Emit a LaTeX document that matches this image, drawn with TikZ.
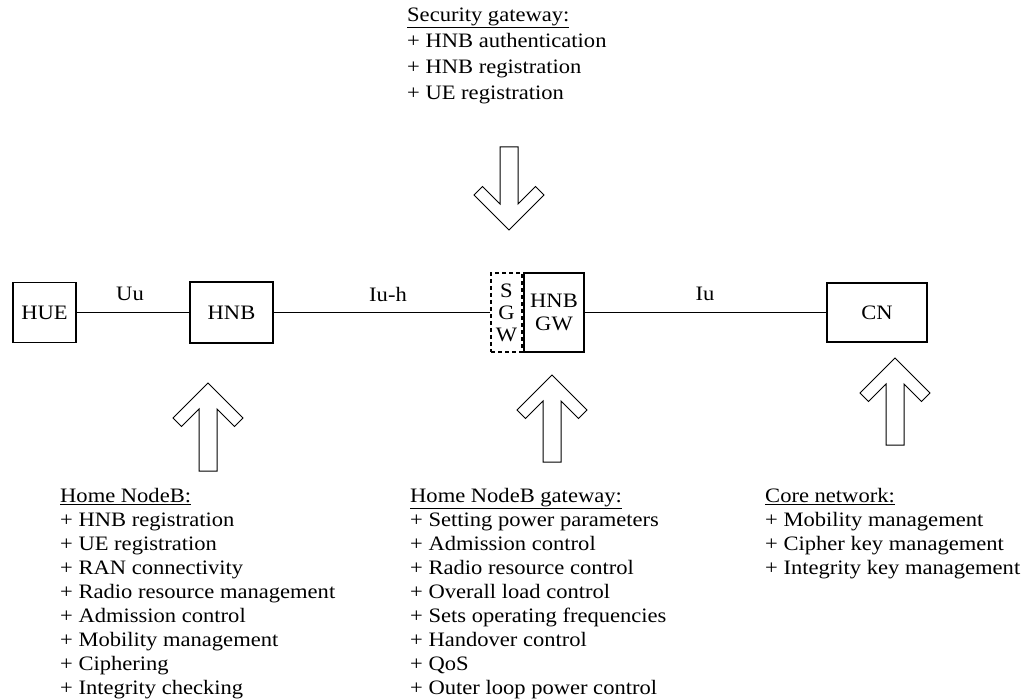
\documentclass[tikz,border=0pt]{standalone}
\usepackage{fontspec}
\setmainfont{Liberation Serif}[FakeStretch=1.1]
\newcommand\fs{\fontsize{20.5}{24}\selectfont}
\newcommand\arrowup[3]{\draw[hollow] (#1,#2) -- ({#1+35},{#2+35}) -- ({#1+26.5},{#2+43.5}) -- ({#1+9},{#2+26}) -- ({#1+9},#3) -- ({#1-9},#3) -- ({#1-9},{#2+26}) -- ({#1-26.5},{#2+43.5}) -- ({#1-35},{#2+35}) -- cycle;}
\newcommand\arrowdown[3]{\draw[hollow] (#1,#2) -- ({#1+35},{#2-35}) -- ({#1+26.5},{#2-43.5}) -- ({#1+9},{#2-26}) -- ({#1+9},#3) -- ({#1-9},#3) -- ({#1-9},{#2-26}) -- ({#1-26.5},{#2-43.5}) -- ({#1-35},{#2-35}) -- cycle;}
\begin{document}
\begin{tikzpicture}[x=1pt,y=-1pt,
  box/.style={draw,line width=1.5pt,inner sep=0pt,font=\fs},
  conn/.style={line width=1.5pt},
  hollow/.style={draw,line width=1pt,line join=miter},
  lbl/.style={font=\fs,inner sep=0pt},
  info/.style={font=\fs,align=left,anchor=north west,inner sep=0pt}]
\useasboundingbox[fill=white] (0,0) rectangle (1025,700);

% main chain
\node[box,minimum width=63pt,minimum height=60pt] (hue) at (44.5,312.5) {HUE};
\node[box,minimum width=83pt,minimum height=61pt] (hnb) at (231.5,312.5) {HNB};
\node[box,dashed,dash pattern=on 4pt off 3pt,minimum width=31pt,minimum height=79pt,align=center,font=\fontsize{20.5}{22}\selectfont] (sgw) at (506.5,312.5) {S\\G\\W};
\node[box,minimum width=60pt,minimum height=79pt,align=center,font=\fontsize{20.5}{23}\selectfont] (gw) at (554,312.5) {HNB\\GW};
\node[box,minimum width=100pt,minimum height=59pt] (cn) at (877,312.5) {CN};

\draw[conn] (hue.east) -- (hnb.west);
\draw[conn] (hnb.east) -- (sgw.west);
\draw[conn] (gw.east) -- (cn.west);

\node[lbl] (uu) at (130,294) {Uu};
\node[lbl] (iuh) at (388,294) {Iu-h};
\node[lbl] (iu) at (705,294) {Iu};

% hollow arrows
\arrowdown{509}{230}{147}
\arrowup{208}{383}{471}
\arrowup{552}{375}{462}
\arrowup{895}{358}{445}

% info blocks
\node[info,font=\fontsize{20.5}{26}\selectfont] (secinfo) at (407,8) {\underline{Security gateway:}\\+ HNB authentication\\+ HNB registration\\+ UE registration};
\node[info] (hnbinfo) at (60,488) {\underline{Home NodeB:}\\+ HNB registration\\+ UE registration\\+ RAN connectivity\\+ Radio resource management\\+ Admission control\\+ Mobility management\\+ Ciphering\\+ Integrity checking};
\node[info] (gwinfo) at (410,488) {\underline{Home NodeB gateway:}\\+ Setting power parameters\\+ Admission control\\+ Radio resource control\\+ Overall load control\\+ Sets operating frequencies\\+ Handover control\\+ QoS\\+ Outer loop power control};
\node[info] (cninfo) at (765,488) {\underline{Core network:}\\+ Mobility management\\+ Cipher key management\\+ Integrity key management};
\end{tikzpicture}
\end{document}
